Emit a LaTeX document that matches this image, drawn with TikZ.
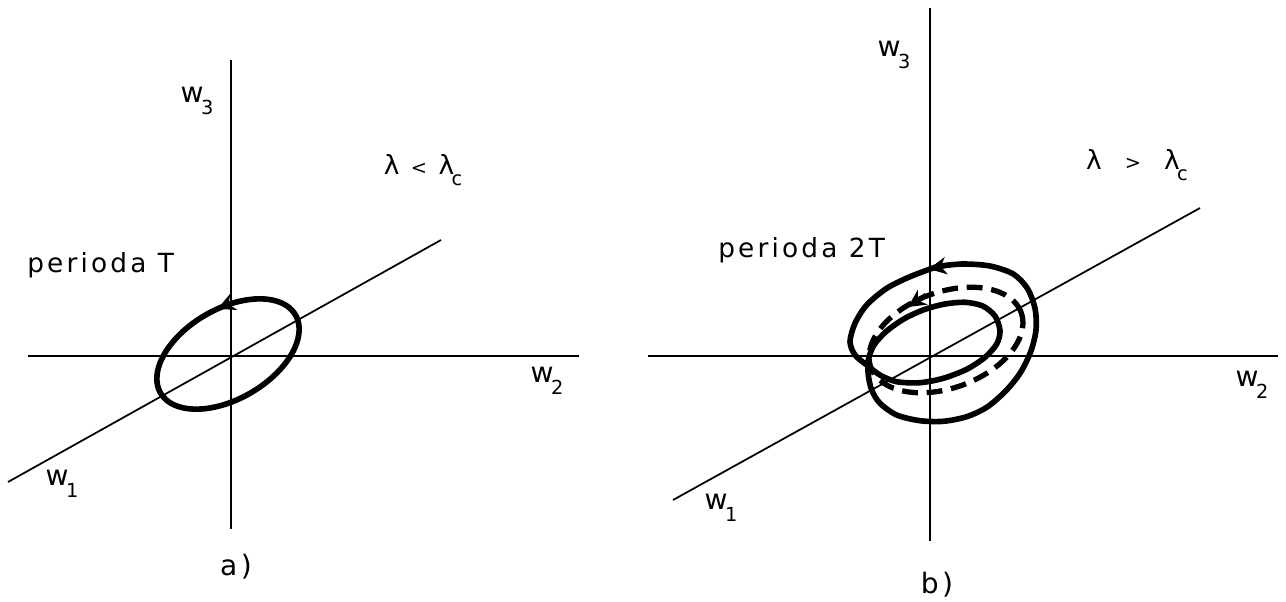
\documentclass[tikz,border=0pt]{standalone}
\usepackage{fontspec}
\newfontfamily\lett{DejaVu Sans}[LetterSpace=12]
\usetikzlibrary{arrows.meta}
\newcommand\subsc[1]{\kern-1.5pt\raisebox{-0.42em}{\fontsize{11}{11}\selectfont #1}}
\begin{document}
\begin{tikzpicture}[x=0.02cm,y=-0.02cm,
  axis/.style={line width=1pt},
  orbit/.style={line width=3.2pt,line join=round,line cap=round},
  dashorbit/.style={line width=3pt,dash pattern=on 9pt off 5pt},
  tip/.style={-{Stealth[length=10pt,width=10pt]},line width=2.6pt},
  lbl/.style={font=\lett\fontsize{15}{15}\selectfont,inner sep=0pt},
  axlbl/.style={font=\lett\fontsize{16}{16}\selectfont,inner sep=0pt}]
\useasboundingbox (0,0) rectangle (1286,602);
% ---------- panel a ----------
\coordinate (aV1) at (231,60);  \coordinate (aV2) at (231,529);
\coordinate (aH1) at (28,356);  \coordinate (aH2) at (579,356);
\coordinate (aD1) at (8,482);   \coordinate (aD2) at (441,240);
\draw[axis] (aV1) -- (aV2);
\draw[axis] (aH1) -- (aH2);
\draw[axis] (aD1) -- (aD2);
\draw[orbit] plot[domain=0:360,samples=90,smooth]
  ({228+67.5*cos(\x)+22.5*sin(\x)},{354-39*cos(\x)+39*sin(\x)});
\draw[tip] plot[domain=-55:-80,samples=6,smooth]
  ({228+67.5*cos(\x)+22.5*sin(\x)},{354-39*cos(\x)+39*sin(\x)});
\node[axlbl] (aw3) at (197,101) {w\subsc{3}};
\node[axlbl] (aw2) at (547,381) {w\subsc{2}};
\node[axlbl] (aw1) at (62,484) {w\subsc{1}};
\node[lbl] (alam) at (423,170) {λ {\fontsize{11}{11}\selectfont <} λ\subsc{c}};
\node[lbl,anchor=base west] (aper) at (27,272) {perioda T};
\node[axlbl] (acap) at (236,567) {a)};
% ---------- panel b ----------
\coordinate (bV1) at (930,8);   \coordinate (bV2) at (930,541);
\coordinate (bH1) at (648,356); \coordinate (bH2) at (1278,356);
\coordinate (bD1) at (673,500); \coordinate (bD2) at (1200,208);
\draw[axis] (bV1) -- (bV2);
\draw[axis] (bH1) -- (bH2);
\draw[axis] (bD1) -- (bD2);
% dashed middle orbit
\draw[dashorbit] plot[domain=0:360,samples=90,smooth]
  ({946+75.2*cos(\x)+16.4*sin(\x)},{340-27.4*cos(\x)+45.1*sin(\x)});
\draw[tip] (926,295) -- (908,307);
% period-2 solid orbit
\draw[orbit] plot[smooth cycle,tension=0.5] coordinates {
 (936.7,266.7) (910,276.7) (886.7,288.3) (866.7,305) (855,323.3) (850,341.7)
 (855,355) (866.7,365) (880,375) (896.7,381.7) (920,382.7) (943.3,378.3)
 (966.7,369.3) (985,357.3) (996.7,344) (1000,330.7) (995,316) (982.7,306)
 (965,302.3) (945,304) (925,309.3) (905,318.3) (886.7,331) (874,345)
 (868.3,360) (868.3,375) (871.7,390) (880,403.3) (896.7,415) (920,420.7)
 (943.3,421.3) (966.7,416.7) (986.7,407.3) (1005,391.7) (1020,373.3)
 (1030.7,351.7) (1036,330) (1035,308.3) (1027.3,288.3) (1013.3,274)
 (990,266) (963.3,264) (940,266)};
\draw[tip] (950,265) -- (929,269);
\node[axlbl] (bw3) at (894,55) {w\subsc{3}};
\node[axlbl] (bw2) at (1252,385) {w\subsc{2}};
\node[axlbl] (bw1) at (721,508) {w\subsc{1}};
\node[lbl] (blam) at (1137,165) {λ \ {\fontsize{11}{11}\selectfont >} \ λ\subsc{c}};
\node[lbl,anchor=base west] (bper) at (718,257) {perioda 2T};
\node[axlbl] (bcap) at (937,585) {b)};
\end{tikzpicture}
\end{document}
